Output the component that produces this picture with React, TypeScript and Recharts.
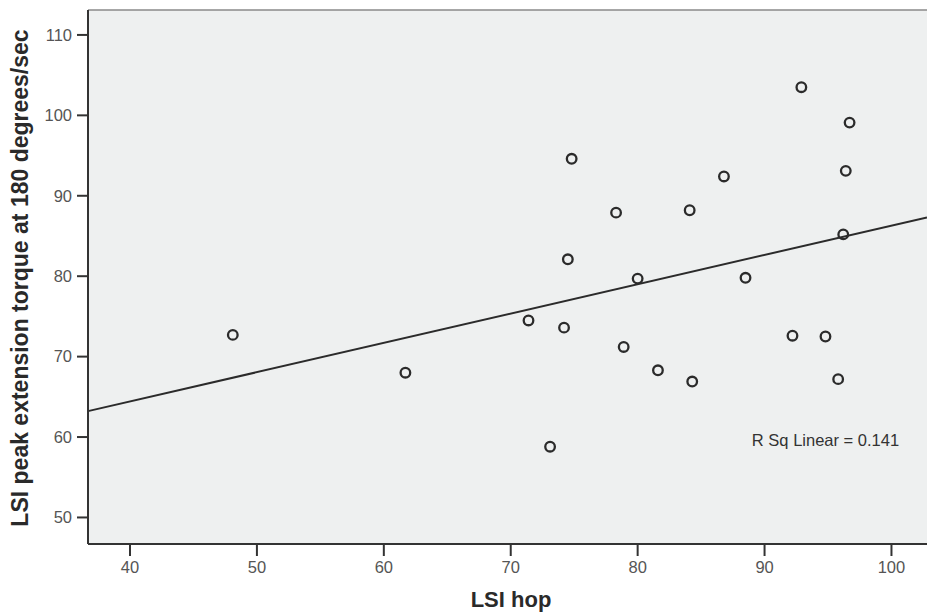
import React from "react";
import {
  ScatterChart,
  Scatter,
  XAxis,
  YAxis,
  ReferenceLine,
  ReferenceArea,
  ReferenceDot,
} from "recharts";

const lsiHop = [
  48.1, 61.7, 71.4, 73.1, 74.2, 74.5, 74.8, 78.3, 78.9, 80.0, 81.6,
  84.1, 84.3, 86.8, 88.5, 92.2, 92.9, 94.8, 95.8, 96.2, 96.4, 96.7,
];
const lsiTorque = [
  72.7, 68.0, 74.5, 58.8, 73.6, 82.1, 94.6, 87.9, 71.2, 79.7, 68.3,
  88.2, 66.9, 92.4, 79.8, 72.6, 103.5, 72.5, 67.2, 85.2, 93.1, 99.1,
];
const xTicks = [40, 50, 60, 70, 80, 90, 100];
const yTicks = [50, 60, 70, 80, 90, 100, 110];
const xDomain = [36.69, 102.8];
const yDomain = [46.7, 113.1];
const fitIntercept = [49.85];
const fitSlope = [0.3644];
const rSqLabel = "R Sq Linear = 0.141";
const rSqPos = [89.0, 58.9];

const points = lsiHop.map((x, i) => ({ x, y: lsiTorque[i] }));
const fitAt = (x: number) => fitIntercept[0] + fitSlope[0] * x;

const Ring = (props: any) => {
  const { cx, cy } = props;
  if (cx == null || cy == null) return null;
  return <circle cx={cx} cy={cy} r={4.8} fill="none" stroke="#2b2b2b" strokeWidth={2.3} />;
};

export default function App() {
  return (
    <div style={{ position: "absolute", left: 0, top: 0, width: 927, height: 616, background: "#fff" }}>
      <ScatterChart
        width={927}
        height={616}
        margin={{ top: 10, right: 0, bottom: 0, left: 0 }}
      >
        <ReferenceArea
          x1={xDomain[0]}
          x2={xDomain[1]}
          y1={yDomain[0]}
          y2={yDomain[1]}
          fill="#eef0f0"
          fillOpacity={1}
          stroke="none"
        />
        <XAxis
          type="number"
          dataKey="x"
          domain={xDomain}
          ticks={xTicks}
          allowDataOverflow
          height={72}
          tickSize={12}
          tickMargin={5}
          axisLine={{ stroke: "#333", strokeWidth: 2 }}
          tickLine={{ stroke: "#333", strokeWidth: 2 }}
          tick={{ fill: "#555", fontSize: 16.5, fontFamily: "Liberation Sans, Arial, sans-serif" }}
          label={(p: any) => (
            <text
              x={511}
              y={607}
              textAnchor="middle"
              fontFamily="Liberation Sans, Arial, sans-serif"
              fontWeight="bold"
              fontSize={22}
              fill="#2a2a2a"
            >
              LSI hop
            </text>
          )}
        />
        <YAxis
          type="number"
          dataKey="y"
          domain={yDomain}
          ticks={yTicks}
          allowDataOverflow
          width={88}
          tickSize={11}
          tickMargin={5}
          axisLine={{ stroke: "#333", strokeWidth: 2 }}
          tickLine={{ stroke: "#333", strokeWidth: 2 }}
          tick={{ fill: "#555", fontSize: 16.5, fontFamily: "Liberation Sans, Arial, sans-serif" }}
          label={(p: any) => (
            <text
              x={28}
              y={278}
              transform="rotate(-90, 28, 278)"
              textAnchor="middle"
              fontFamily="Liberation Sans, Arial, sans-serif"
              fontWeight="bold"
              fontSize={23}
              fill="#2a2a2a"
            >
              LSI peak extension torque at 180 degrees/sec
            </text>
          )}
        />
        <ReferenceLine y={yDomain[1]} stroke="#8a8a8a" strokeWidth={1.5} />
        <ReferenceLine
          segment={[
            { x: xDomain[0], y: fitAt(xDomain[0]) },
            { x: xDomain[1], y: fitAt(xDomain[1]) },
          ]}
          stroke="#2b2b2b"
          strokeWidth={2}
        />
        <Scatter data={points} shape={Ring} isAnimationActive={false} />
        <ReferenceDot
          x={rSqPos[0]}
          y={rSqPos[1]}
          r={0}
          shape={(p: any) => (
            <text
              x={p.cx}
              y={p.cy}
              fontFamily="Liberation Sans, Arial, sans-serif"
              fontSize={16.5}
              fill="#333"
            >
              {rSqLabel}
            </text>
          )}
        />
      </ScatterChart>
    </div>
  );
}
